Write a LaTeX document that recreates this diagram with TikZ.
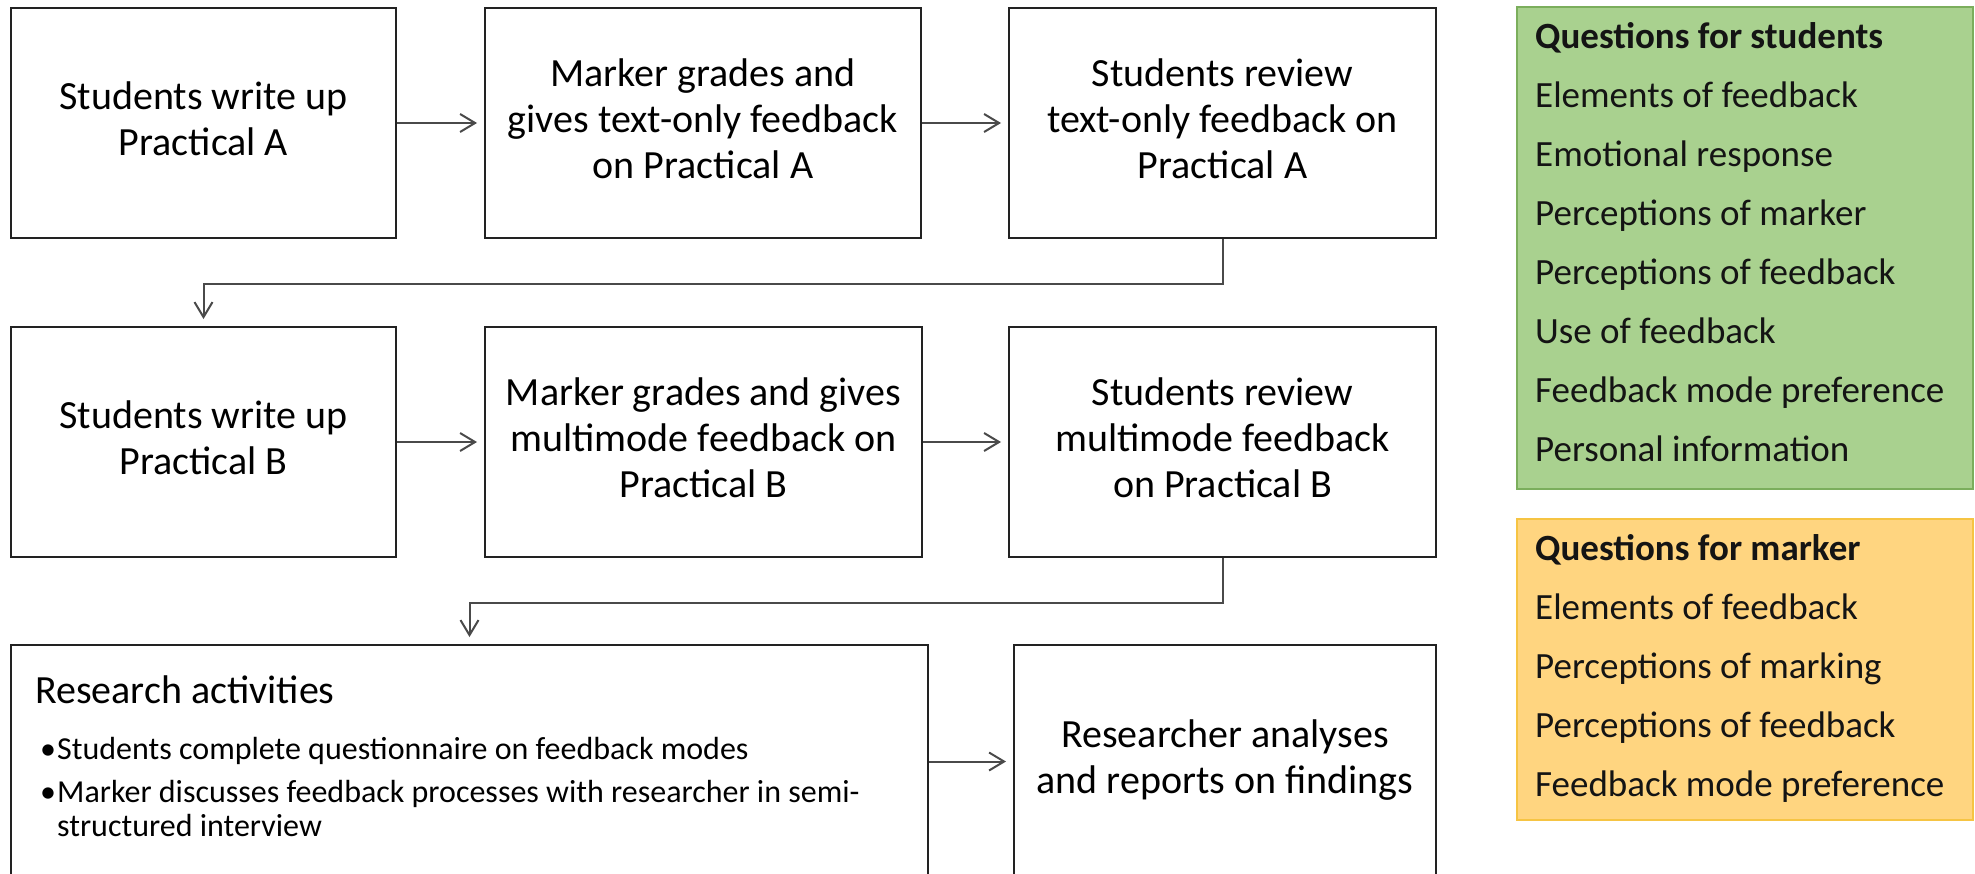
\documentclass[tikz,border=0pt]{standalone}
\usepackage{fontspec}
\setmainfont{Carlito}
\usetikzlibrary{arrows.meta}
\definecolor{gfill}{HTML}{A9D18F}
\definecolor{gline}{HTML}{7BAE5C}
\definecolor{ofill}{HTML}{FFD580}
\definecolor{oline}{HTML}{F6C443}
\definecolor{lnk}{HTML}{4A4A4A}
\definecolor{bord}{HTML}{222222}
\begin{document}
\begin{tikzpicture}[x=1pt,y=-1pt,
  stepbox/.style={draw=bord, line width=2pt, inner sep=0pt, align=center,
    font=\fontsize{40}{46}\selectfont},
  arr/.style={draw=lnk, line width=2pt,
    -{Straight Barb[length=15pt,width=18pt,line width=2pt]}, shorten >=7pt},
  qtext/.style={anchor=base west, inner sep=0pt, font=\fontsize{37}{44}\selectfont, text=black!92},
  btext/.style={anchor=base west, inner sep=0pt, font=\fontsize{32}{34}\selectfont},
  ]
\useasboundingbox (0,0) rectangle (1975,873);
\clip (0,0) rectangle (1975,873);
% row 1
\node[stepbox, minimum width=385pt, minimum height=230pt] (A1) at (203.5,123)
  {\strut Students write up\\Practical A\strut};
\node[stepbox, minimum width=436pt, minimum height=230pt] (A2) at (703,123)
  {\strut Marker grades and\\gives text-only feedback\\on Practical A\strut};
\node[stepbox, minimum width=427pt, minimum height=230pt] (A3) at (1222.5,123)
  {\strut Students review\\text-only feedback on\\Practical A\strut};
% row 2
\node[stepbox, minimum width=385pt, minimum height=230pt] (B1) at (203.5,442)
  {\strut Students write up\\Practical B\strut};
\node[stepbox, minimum width=437pt, minimum height=230pt] (B2) at (703.5,442)
  {\strut Marker grades and gives\\multimode feedback on\\Practical B\strut};
\node[stepbox, minimum width=427pt, minimum height=230pt] (B3) at (1222.5,442)
  {\strut Students review\\multimode feedback\\on Practical B\strut};
% row 3
\node[stepbox, minimum width=917pt, minimum height=233pt] (R1) at (469.5,761.5) {};
\node[stepbox, minimum width=422pt, minimum height=233pt] (R2) at (1225,761.5)
  {\strut Researcher analyses\\and reports on findings\strut};
\node[anchor=base west, inner sep=0pt, font=\fontsize{40}{46}\selectfont] (rhead) at (35,703) {Research activities};
\node[btext] (bul1) at (40,759) {•};
\node[btext] (rb1) at (57,759) {Students complete questionnaire on feedback modes};
\node[btext] (bul2) at (40,802) {•};
\node[btext] (rb2) at (57,802) {Marker discusses feedback processes with researcher in semi-};
\node[btext] (rb3) at (57,836) {structured interview};
% question boxes
\node[draw=gline, fill=gfill, line width=1.5pt, minimum width=456pt, minimum height=482pt, inner sep=0pt] (G) at (1745,248) {};
\node[draw=oline, fill=ofill, line width=1.5pt, minimum width=456pt, minimum height=301pt, inner sep=0pt] (O) at (1745,669.5) {};
\node[qtext] (g0) at (1535,48) {\bfseries Questions for students};
\node[qtext] (g1) at (1535,107) {Elements of feedback};
\node[qtext] (g2) at (1535,166) {Emotional response};
\node[qtext] (g3) at (1535,225) {Perceptions of marker};
\node[qtext] (g4) at (1535,284) {Perceptions of feedback};
\node[qtext] (g5) at (1535,343) {Use of feedback};
\node[qtext] (g6) at (1535,402) {Feedback mode preference};
\node[qtext] (g7) at (1535,461) {Personal information};
\node[qtext] (o0) at (1535,560) {\bfseries Questions for marker};
\node[qtext] (o1) at (1535,619) {Elements of feedback};
\node[qtext] (o2) at (1535,678) {Perceptions of marking};
\node[qtext] (o3) at (1535,737) {Perceptions of feedback};
\node[qtext] (o4) at (1535,796) {Feedback mode preference};
% connectors
\draw[arr] (A1.east) -- (A2.west);
\draw[arr] (A2.east) -- (A3.west);
\draw[arr] (B1.east) -- (B2.west);
\draw[arr] (B2.east) -- (B3.west);
\draw[arr] (R1.east) -- (R2.west);
\draw[arr] (A3.south) -- ++(0,45) -| (B1.north);
\draw[arr] (B3.south) -- ++(0,45) -| (R1.north);
\end{tikzpicture}
\end{document}
